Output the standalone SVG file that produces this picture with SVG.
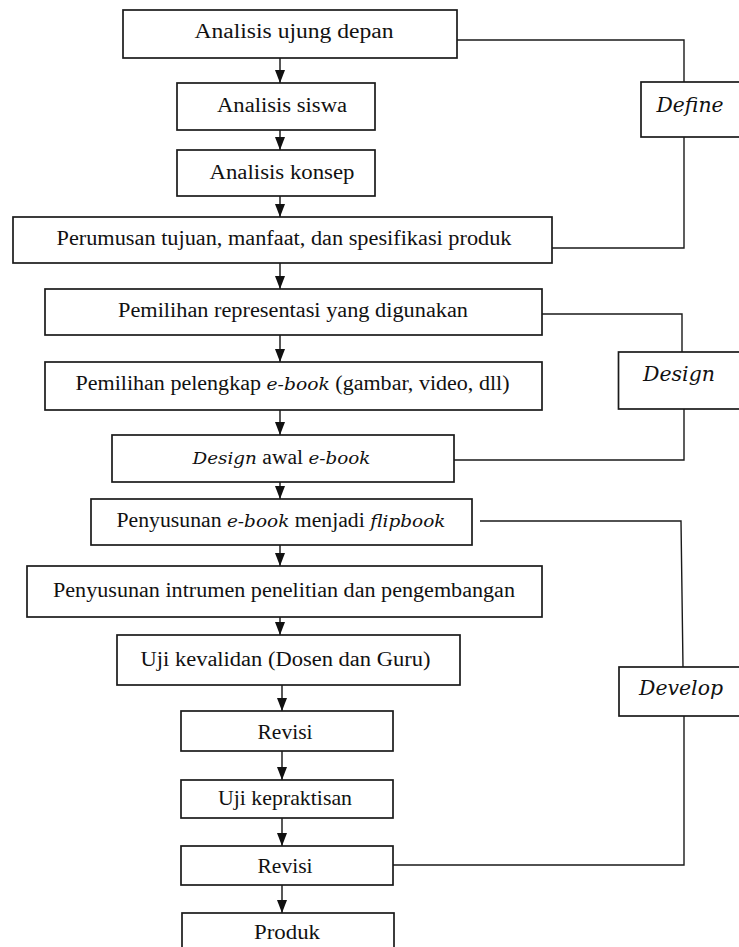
<svg xmlns="http://www.w3.org/2000/svg" width="739" height="947" viewBox="0 0 739 947">
<style>
.box{fill:#fff;stroke:#1a1a1a;stroke-width:1.7}
.t{font-family:'Liberation Serif','DejaVu Serif','Times New Roman',serif;font-size:20px;fill:#111;text-anchor:middle}
.tb{font-size:21.5px}
.i{font-family:'DejaVu Serif','Liberation Serif',serif;font-style:italic;font-size:17px}
.lab{font-family:'DejaVu Serif','Liberation Serif',serif;font-style:italic;font-size:21px;fill:#111;text-anchor:middle}
.c{fill:none;stroke:#1a1a1a;stroke-width:1.4}
.a{fill:none;stroke:#111;stroke-width:1.4;marker-end:url(#ah)}
</style>
<defs>
<marker id="ah" viewBox="0 0 13 10" refX="13" refY="5" markerWidth="13" markerHeight="10" markerUnits="userSpaceOnUse" orient="auto">
<path d="M0,0 L13,5 L0,10 z" fill="#111"/>
</marker>
</defs>
<rect width="739" height="947" fill="#fff"/>

<g id="connectors">
<line class="a" x1="280" y1="58" x2="280" y2="83"/>
<line class="a" x1="280" y1="130" x2="280" y2="150"/>
<line class="a" x1="280" y1="196" x2="280" y2="217"/>
<line class="a" x1="280" y1="263" x2="280" y2="289"/>
<line class="a" x1="280" y1="335" x2="280" y2="362"/>
<line class="a" x1="280" y1="410" x2="280" y2="435"/>
<line class="a" x1="280" y1="482" x2="280" y2="499"/>
<line class="a" x1="280" y1="545" x2="280" y2="566"/>
<line class="a" x1="280" y1="617" x2="280" y2="635"/>
<line class="a" x1="282" y1="685" x2="282" y2="711"/>
<line class="a" x1="282" y1="751" x2="282" y2="780"/>
<line class="a" x1="282" y1="818" x2="282" y2="846"/>
<line class="a" x1="282" y1="885" x2="282" y2="913"/>
<polyline class="c" points="457,40 684,40 684,82"/>
<polyline class="c" points="684,137 684,248 552,248"/>
<polyline class="c" points="542,314 682,314 682,352"/>
<polyline class="c" points="684,409 684,460 454,460"/>
<polyline class="c" points="480,521 681,521 683,667"/>
<polyline class="c" points="684,716 684,865 393,865"/>
</g>

<g id="n1"><rect class="box" x="123" y="10" width="334" height="48"/>
<text class="t" x="294" y="38" textLength="199" lengthAdjust="spacingAndGlyphs">Analisis ujung depan</text></g>
<g id="n2"><rect class="box" x="177" y="83" width="198" height="47"/>
<text class="t" x="282" y="112" textLength="130" lengthAdjust="spacingAndGlyphs">Analisis siswa</text></g>
<g id="n3"><rect class="box" x="177" y="150" width="198" height="46"/>
<text class="t" x="282" y="179" textLength="145" lengthAdjust="spacingAndGlyphs">Analisis konsep</text></g>
<g id="n4"><rect class="box" x="13" y="217" width="539" height="46"/>
<text class="t" x="284" y="245" textLength="455" lengthAdjust="spacingAndGlyphs">Perumusan tujuan, manfaat, dan spesifikasi produk</text></g>
<g id="n5"><rect class="box" x="45" y="289" width="497" height="46"/>
<text class="t" x="293" y="317" textLength="350" lengthAdjust="spacingAndGlyphs">Pemilihan representasi yang digunakan</text></g>
<g id="n6"><rect class="box" x="45" y="362" width="497" height="48"/>
<text class="t" x="292.5" y="390" textLength="434" lengthAdjust="spacingAndGlyphs">Pemilihan pelengkap <tspan class="i">e-book</tspan> (gambar, video, dll)</text></g>
<g id="n7"><rect class="box" x="112" y="435" width="342" height="47"/>
<text class="t" x="281.5" y="464" textLength="178" lengthAdjust="spacingAndGlyphs"><tspan class="i">Design</tspan> awal <tspan class="i">e-book</tspan></text></g>
<g id="n8"><rect class="box" x="91" y="499" width="381" height="46"/>
<text class="t" x="281" y="527" textLength="329" lengthAdjust="spacingAndGlyphs">Penyusunan <tspan class="i">e-book</tspan> menjadi <tspan class="i">flipbook</tspan></text></g>
<g id="n9"><rect class="box" x="27" y="566" width="515" height="51"/>
<text class="t" x="284" y="597" textLength="462" lengthAdjust="spacingAndGlyphs">Penyusunan intrumen penelitian dan pengembangan</text></g>
<g id="n10"><rect class="box" x="117" y="635" width="343" height="50"/>
<text class="t" x="285.5" y="666" textLength="290" lengthAdjust="spacingAndGlyphs">Uji kevalidan (Dosen dan Guru)</text></g>
<g id="n11"><rect class="box" x="181" y="711" width="212" height="40"/>
<text class="t tb" x="285" y="739" textLength="55" lengthAdjust="spacingAndGlyphs">Revisi</text></g>
<g id="n12"><rect class="box" x="181" y="780" width="212" height="38"/>
<text class="t tb" x="285" y="805" textLength="134" lengthAdjust="spacingAndGlyphs">Uji kepraktisan</text></g>
<g id="n13"><rect class="box" x="181" y="846" width="212" height="39"/>
<text class="t tb" x="285" y="873" textLength="55" lengthAdjust="spacingAndGlyphs">Revisi</text></g>
<g id="n14"><rect class="box" x="182" y="913" width="212" height="45"/>
<text class="t tb" x="287" y="939" textLength="66" lengthAdjust="spacingAndGlyphs">Produk</text></g>

<g id="define"><rect class="box" x="641" y="82" width="110" height="55"/>
<text class="lab" x="690" y="112" textLength="67" lengthAdjust="spacingAndGlyphs">Define</text></g>
<g id="design"><rect class="box" x="618.5" y="352" width="130" height="57"/>
<text class="lab" x="679" y="381" textLength="72" lengthAdjust="spacingAndGlyphs">Design</text></g>
<g id="develop"><rect class="box" x="619" y="667" width="130" height="49"/>
<text class="lab" x="681" y="695" textLength="84" lengthAdjust="spacingAndGlyphs">Develop</text></g>
</svg>
